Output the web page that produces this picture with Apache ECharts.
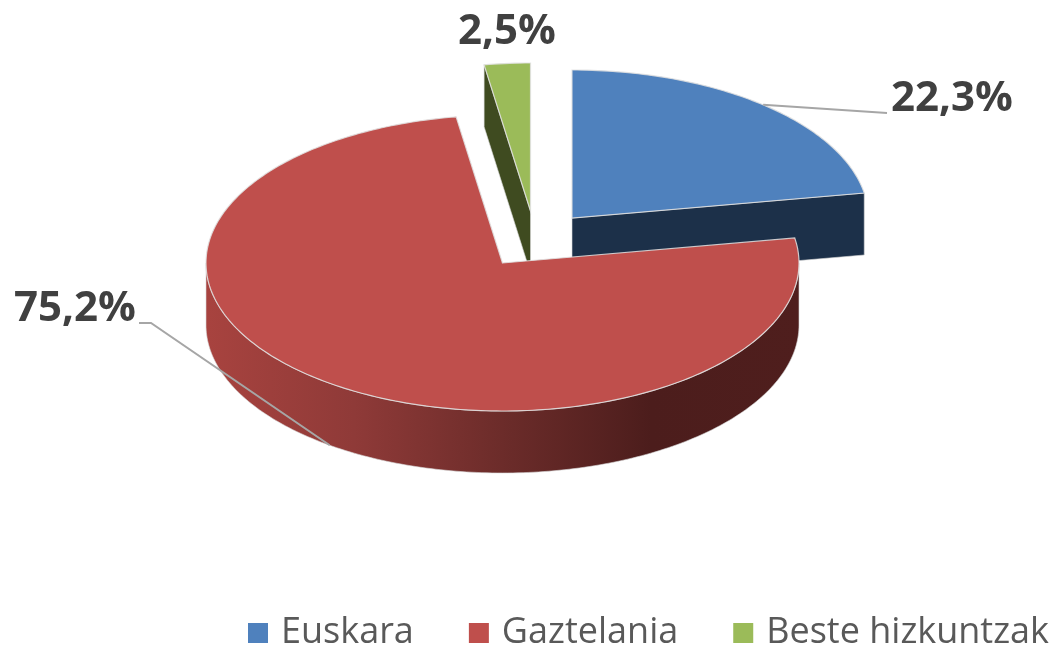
<!DOCTYPE html>
<html>
<head>
<meta charset="utf-8">
<title>Hizkuntzak</title>
<script src="https://cdn.jsdelivr.net/npm/echarts@6/dist/echarts.min.js"></script>
<style>
  html, body { margin: 0; padding: 0; background: #fff; }
  #chart { width: 1064px; height: 646px; }
</style>
</head>
<body>
<div id="chart"></div>
<script>
// data
const categories = ['Euskara', 'Gaztelania', 'Beste hizkuntzak']
const values = [22.3, 75.2, 2.5]

// look of each slice
const topColors = ['#4f81bd', '#bf4f4c', '#9bbb59']
const wallColors = ['#1c3049', null, '#3f4b20']
const explode = [[69.5, -45], [0, 0], [28, -52]]
// label centre, leader elbow points (null = no leader)
const labelPos = [[952, 99], [75, 309], [507, 32]]
const leaderPts = [[[887, 113]], [[151, 323], [139, 323]], null]

const pie = { cx: 502.5, cy: 263, rx: 296.5, ry: 148, depth: 62 }
const font = '"Open Sans", sans-serif'

const total = values.reduce((a, b) => a + b, 0)
const DEG = Math.PI / 180

// slice angles, clockwise from 12 o'clock
const slices = []
values.reduce((start, v, i) => {
  const end = start + v / total * 360
  slices.push({ start, end, mid: (start + end) / 2 })
  return end
}, 0)

function pt(i, a, down) {
  return [
    pie.cx + explode[i][0] + pie.rx * Math.sin(a * DEG),
    pie.cy + explode[i][1] - pie.ry * Math.cos(a * DEG) + (down ? pie.depth : 0)
  ]
}

function arc(i, from, to, down) {
  const pts = []
  const n = Math.ceil(Math.abs(to - from))
  for (let k = 0; k <= n; k++) {
    pts.push(pt(i, from + (to - from) * k / n, down))
  }
  return pts
}

function formatValue(v) {
  return v.toFixed(1).replace('.', ',') + '%'
}

function renderSlice(i) {
  const s = slices[i]
  const apex = [pie.cx + explode[i][0], pie.cy + explode[i][1]]
  const apexDown = [apex[0], apex[1] + pie.depth]
  const children = []
  const wallStroke = { stroke: 'rgba(215,215,215,0.6)', lineWidth: 1 }

  // cut faces, only the ones turned to the viewer
  if (Math.sin(s.start * DEG) < -1e-6) {
    children.push({
      type: 'polygon',
      shape: { points: [apex, pt(i, s.start), pt(i, s.start, true), apexDown] },
      style: { fill: wallColors[i], ...wallStroke }
    })
  }
  if (Math.sin(s.end * DEG) > 1e-6) {
    children.push({
      type: 'polygon',
      shape: { points: [apex, pt(i, s.end), pt(i, s.end, true), apexDown] },
      style: { fill: wallColors[i], ...wallStroke }
    })
  }

  // round front wall
  const from = Math.max(s.start, 90)
  const to = Math.min(s.end, 270)
  if (to > from) {
    children.push({
      type: 'polygon',
      shape: { points: arc(i, from, to).concat(arc(i, to, from, true)) },
      style: {
        fill: new echarts.graphic.LinearGradient(0, 0, 1, 0, [
          { offset: 0, color: '#a8433f' },
          { offset: 0.25, color: '#8f3a38' },
          { offset: 0.5, color: '#6c2c2a' },
          { offset: 0.75, color: '#4c1d1c' },
          { offset: 1, color: '#4f1e1d' }
        ]),
        ...wallStroke
      }
    })
  }

  // top face
  children.push({
    type: 'polygon',
    shape: { points: [apex].concat(arc(i, s.start, s.end)) },
    style: { fill: topColors[i], stroke: 'rgba(225,225,225,0.85)', lineWidth: 1.2 }
  })

  // leader line
  if (leaderPts[i]) {
    const front = s.mid > 90 && s.mid < 270
    children.push({
      type: 'polyline',
      shape: { points: [pt(i, s.mid, front)].concat(leaderPts[i]) },
      style: { fill: 'none', stroke: '#a6a6a6', lineWidth: 2 }
    })
  }

  children.push({
    type: 'text',
    style: {
      x: labelPos[i][0],
      y: labelPos[i][1],
      text: formatValue(values[i]),
      fill: '#404040',
      fontSize: 42,
      fontWeight: 'bold',
      fontFamily: font,
      align: 'center',
      verticalAlign: 'middle'
    }
  })
  return { type: 'group', children }
}

const chart = echarts.init(document.getElementById('chart'))

chart.setOption({
  animation: false,
  backgroundColor: '#fff',
  legend: {
    left: 243,
    top: 610,
    icon: 'rect',
    itemWidth: 20,
    itemHeight: 20,
    itemGap: 55,
    data: categories,
    textStyle: {
      color: '#595959',
      fontSize: 36,
      fontFamily: font,
      padding: [0, 0, 0, 8]
    }
  },
  // the big red slice goes last, it covers the blue wall
  series: categories.map((name, i) => ({
    type: 'custom',
    name,
    coordinateSystem: 'none',
    z: i === 1 ? 3 : 2,
    itemStyle: { color: topColors[i] },
    data: [values[i]],
    renderItem: () => renderSlice(i)
  }))
})
</script>
</body>
</html>
